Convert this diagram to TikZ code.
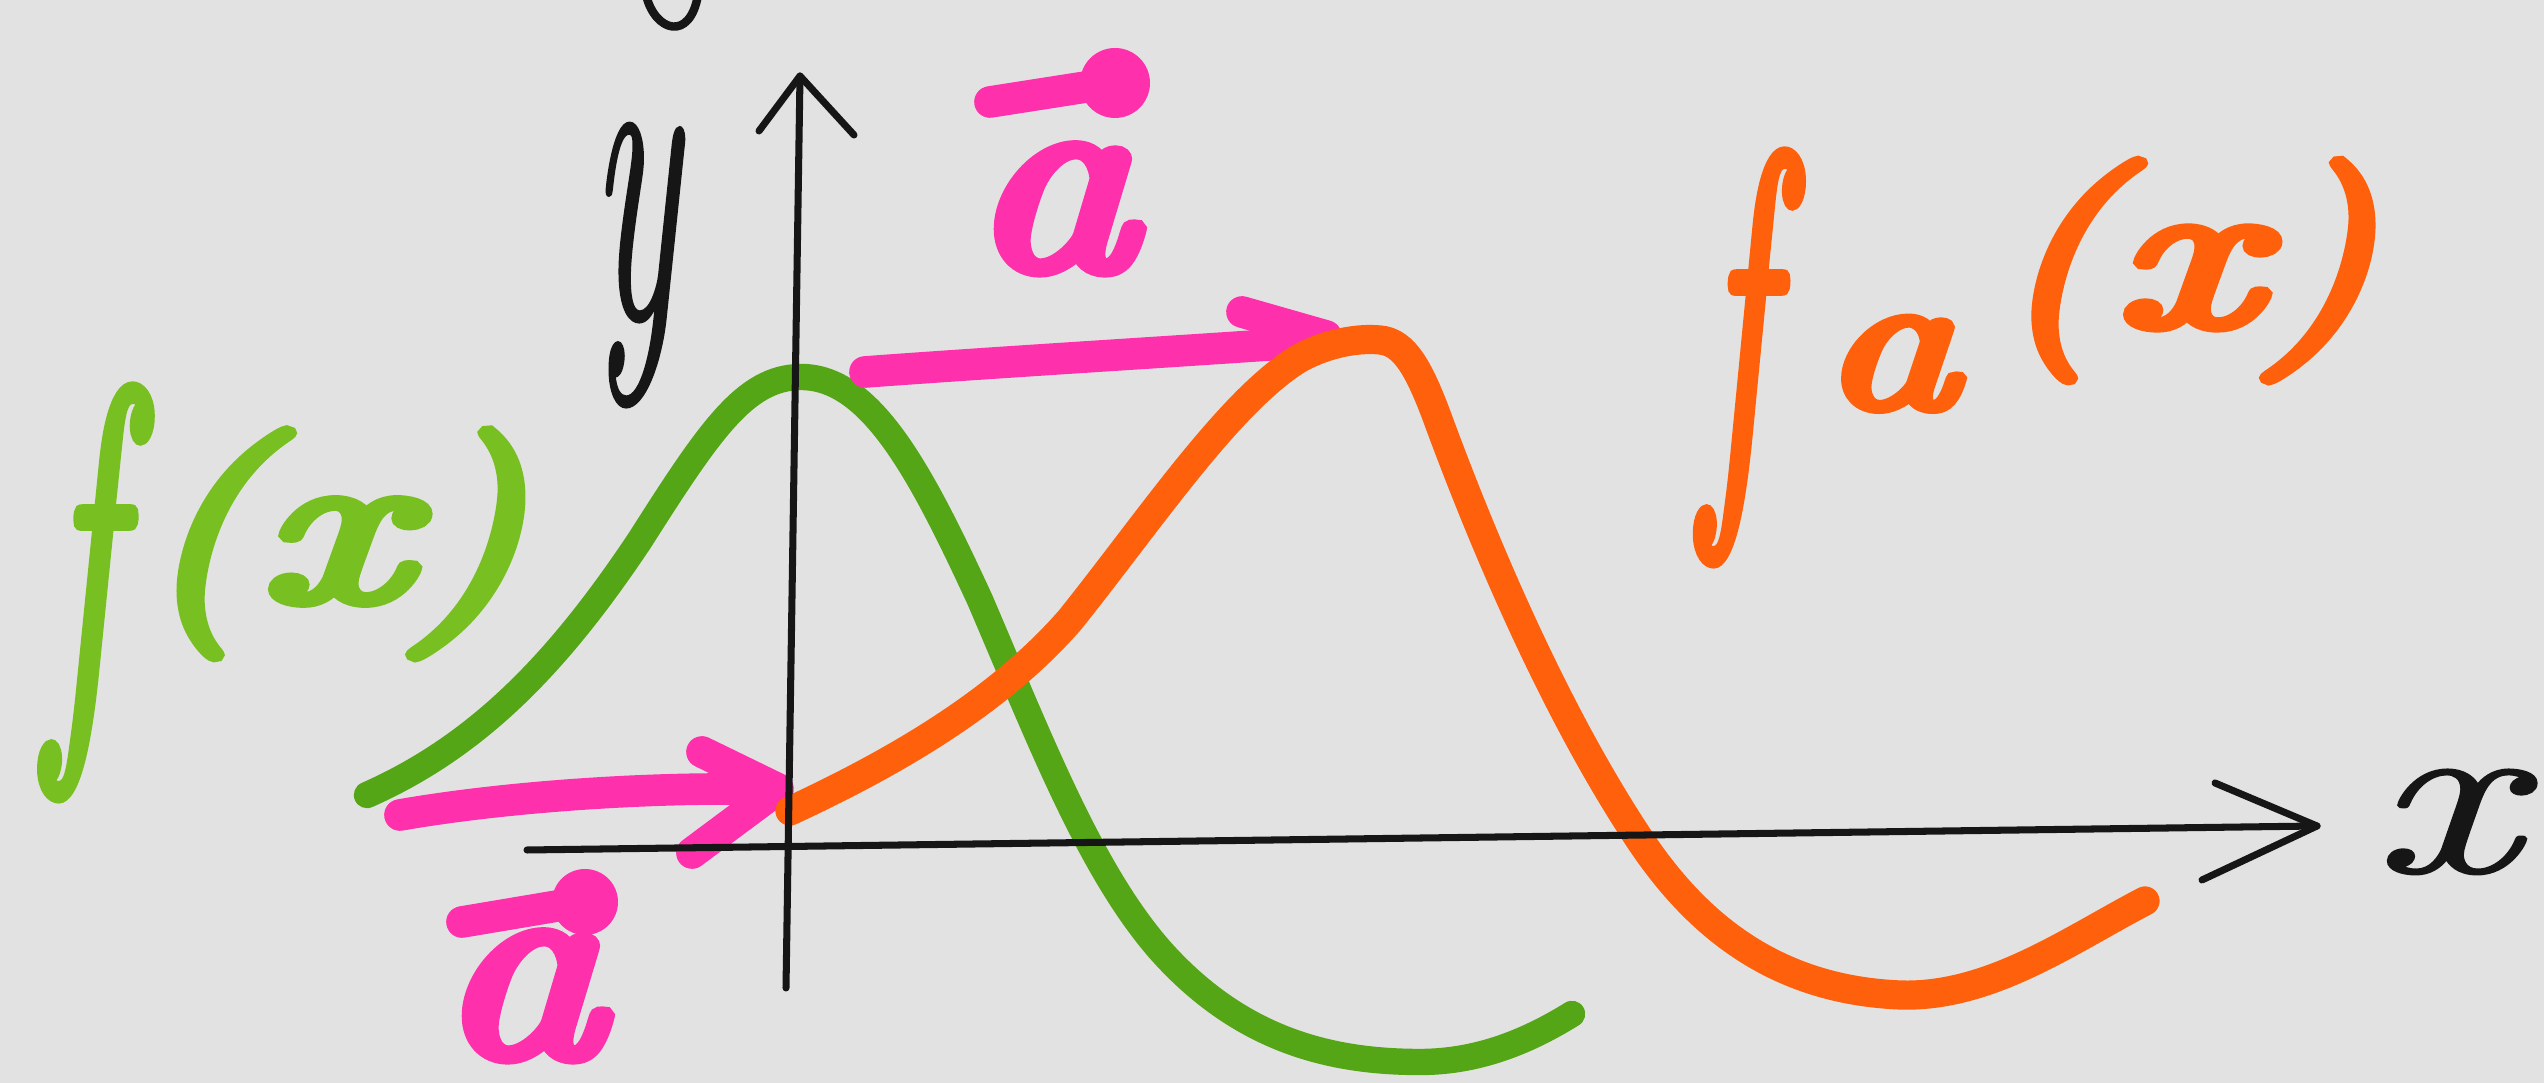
\documentclass[tikz,border=0pt]{standalone}
\usepackage{fontspec}
\usepackage{graphicx}
\newfontfamily\hand[FakeBold=3]{Latin Modern Roman}
\newfontfamily\handb[FakeBold=5]{Latin Modern Roman}
\newfontfamily\pen[FakeBold=1]{Latin Modern Roman}
\usetikzlibrary{arrows.meta}
\definecolor{bg}{RGB}{226,226,226}
\definecolor{cgreen}{RGB}{84,166,22}
\definecolor{tgreen}{RGB}{120,192,34}
\definecolor{corange}{RGB}{255,96,12}
\definecolor{cpink}{RGB}{255,48,172}
\definecolor{penblack}{RGB}{22,22,22}
\newcommand{\argx}[2]{\scalebox{1.3}[1]{(}\hspace{#2}\scalebox{#1}[1]{x}\hspace{#2}\scalebox{1.3}[1]{)}}
\begin{document}
\begin{tikzpicture}[x=0.01cm,y=-0.01cm,
  greenmark/.style={line width=7.5pt, line cap=round, line join=round, draw=cgreen},
  orangemark/.style={line width=8.3pt, line cap=round, line join=round, draw=corange},
  pinkmark/.style={line width=9pt, line cap=round, line join=round, draw=cpink},
  ink/.style={line width=2pt, line cap=round, line join=round, draw=penblack},
  lbl/.style={inner sep=0pt, outer sep=0pt, anchor=base}]
\fill[bg] (0,0) rectangle (2544,1083);
\useasboundingbox (0,0) rectangle (2544,1083);

% coordinates of axes
\coordinate (xstart) at (527,850);
\coordinate (xtip) at (2317,826);
\coordinate (ystart) at (786,988);
\coordinate (ytip) at (800,76);

% green curve f(x)
\draw[greenmark] (367,795) .. controls (480,745) and (560,660) .. (640,540)
  .. controls (710,430) and (745,378) .. (800,377)
  .. controls (870,376) and (920,470) .. (980,600)
  .. controls (1040,740) and (1090,870) .. (1160,950)
  .. controls (1240,1040) and (1330,1062) .. (1420,1062)
  .. controls (1480,1062) and (1530,1040) .. (1572,1014);

% pink arrows
\draw[pinkmark] (400,815) .. controls (520,794) and (680,786) .. (775,790);
\draw[pinkmark] (702,752) -- (778,789) -- (692,853);
\draw[pinkmark] (865,372) .. controls (1000,362) and (1200,350) .. (1312,342);
\draw[pinkmark] (1242,312) -- (1326,336);

% orange curve f_a(x)
\draw[orangemark] (790,811) .. controls (900,760) and (1000,700) .. (1070,620)
  .. controls (1150,520) and (1230,400) .. (1300,358)
  .. controls (1330,342) and (1360,338) .. (1380,340)
  .. controls (1405,342) and (1420,370) .. (1440,425)
  .. controls (1490,560) and (1560,720) .. (1640,840)
  .. controls (1700,930) and (1780,990) .. (1900,995)
  .. controls (1990,998) and (2070,940) .. (2145,901);

% axes
\draw[ink] (xstart) -- (xtip);
\draw[ink] (2215,783) -- (xtip) -- (2202,880);
\draw[ink] (ystart) -- (ytip);
\draw[ink] (759,131) -- (ytip) -- (854,135);

% cut-off stroke at top
\draw[ink, line width=2.4pt] (646,-5) .. controls (655,32) and (690,42) .. (698,-5);

% axis labels
\node[lbl, text=penblack] (ylabel) at (635,317)
  {\scalebox{0.59}[1.4]{\pen\itshape\fontsize{89}{89}\selectfont y}};
\node[lbl, text=penblack] (xlabel) at (2445,872)
  {\scalebox{1.4}[1]{\pen\itshape\fontsize{66}{66}\selectfont x}};

% f(x) in green
\node[lbl, text=tgreen] (fG) at (82,705)
  {\scalebox{0.52}[1]{\hand\itshape\fontsize{128}{128}\selectfont f}};
\node[lbl, text=tgreen] (fGarg) at (333,600)
  {\handb\itshape\fontsize{64}{64}\selectfont\argx{1.45}{0.02cm}};

% f_a(x) in orange
\node[lbl, text=corange] (fO) at (1736,470)
  {\scalebox{0.5}[1]{\hand\itshape\fontsize{128}{128}\selectfont f}};
\node[lbl, text=corange] (fOsub) at (1889,407)
  {\scalebox{1.35}[1]{\handb\itshape\fontsize{57}{57}\selectfont a}};
\node[lbl, text=corange] (fOarg) at (2186,325)
  {\handb\itshape\fontsize{62}{62}\selectfont\argx{1.45}{0.05cm}};

% vector a labels
\node[lbl, text=cpink] (atop) at (1052,268)
  {\scalebox{1.2}[1]{\handb\itshape\fontsize{78}{78}\selectfont a}};
\draw[pinkmark] (990,102) -- (1105,84);
\fill[cpink] (1115,83) circle (35);

\node[lbl, text=cpink] (abot) at (520,1055)
  {\scalebox{1.56}[1.3]{\handb\itshape\fontsize{60}{60}\selectfont a}};
\draw[pinkmark] (462,922) -- (575,903);
\fill[cpink] (585,902) circle (33);
\end{tikzpicture}
\end{document}
